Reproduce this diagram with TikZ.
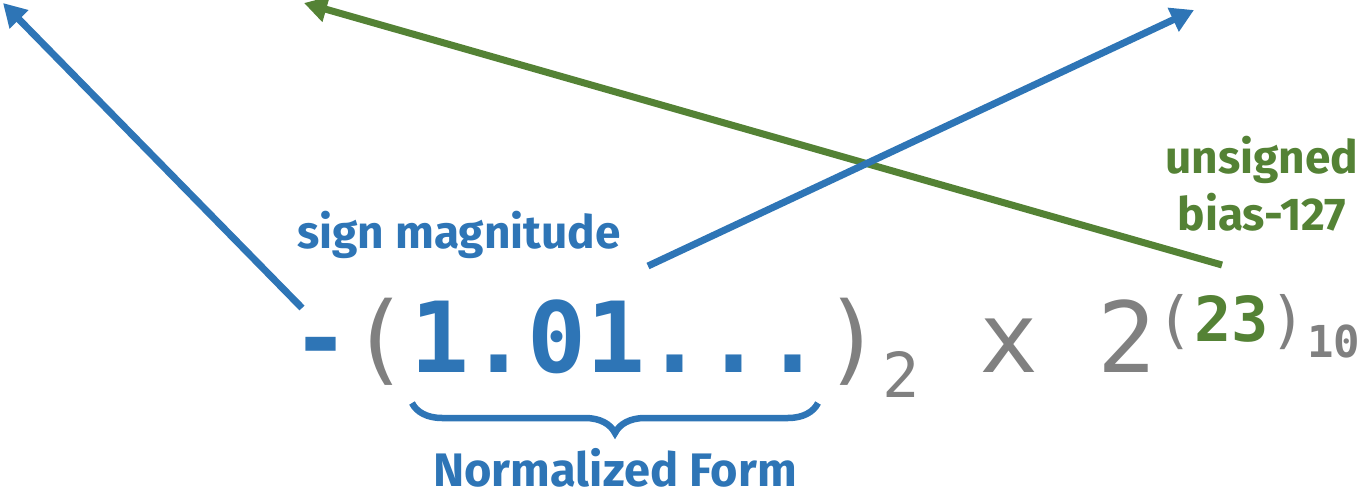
\documentclass[tikz,border=0pt]{standalone}
\usepackage{fontspec}
\setsansfont{Fira Sans}
\setmonofont{DejaVu Sans Mono}
\usetikzlibrary{arrows.meta,positioning,decorations.pathreplacing}
\definecolor{signblue}{RGB}{46,117,182}
\definecolor{expgreen}{RGB}{84,130,53}
\definecolor{numgray}{RGB}{128,128,128}

\begin{document}
\begin{tikzpicture}[x=1pt, y=-1pt,
    big/.style = {inner sep=0pt, anchor=base west, font=\fontsize{98}{98}\selectfont\ttfamily},
    mid/.style = {inner sep=0pt, font=\fontsize{62}{62}\selectfont\ttfamily},
    tiny/.style = {inner sep=0pt, font=\fontsize{44}{44}\selectfont\ttfamily\bfseries},
    tag/.style = {inner sep=0pt, align=center, font=\fontsize{46}{57}\selectfont\sffamily\bfseries},
    pointer/.style = {line width=7pt, -{Triangle[length=23pt,width=25pt]}}]
    \useasboundingbox (0,0) rectangle (1362,497);

    % the number
    \node[big, signblue, font=\fontsize{98}{98}\selectfont\ttfamily\bfseries] (sgn) at (291,372) {-};
    \node[big, numgray] (lpar) [base right=0pt of sgn] {(};
    \node[big, signblue, font=\fontsize{98}{98}\selectfont\ttfamily\bfseries] (mant) [base right=0pt of lpar] {1.01...};
    \node[big, numgray] (rpar) [base right=0pt of mant] {)};
    \node[mid, numgray] (radix) [base right=0pt of rpar, yshift=-25pt] {2};
    \node[big, numgray] (pow) at (979,372) {x 2};
    \node[mid, numgray] (elpar) [base right=0pt of pow, yshift=31pt] {(};
    \node[mid, expgreen, font=\fontsize{62}{62}\selectfont\ttfamily\bfseries] (expo) [base right=0pt of elpar] {23};
    \node[mid, numgray] (erpar) [base right=0pt of expo] {)};
    \node[tiny, numgray] (eradix) [base right=0pt of erpar, yshift=-16pt] {10};

    % labels
    \node[tag, signblue, anchor=base] (smag) at (459,248) {sign magnitude};
    \node[tag, expgreen, anchor=base] (ubias) at (1262,230) {unsigned\\bias-127};
    \node[tag, signblue, anchor=base, font=\fontsize{47}{57}\selectfont\sffamily\bfseries] (nform) at (615,486) {Normalized Form};

    \draw[signblue, line width=6.5pt, decorate, decoration={brace, mirror, amplitude=30pt}]
        (412,403) -- (818,403);

    % pointers
    \coordinate (signtail) at (302,308);
    \coordinate (signtip) at (3,3);
    \coordinate (exptail) at (1222,265);
    \coordinate (exptip) at (304,3);
    \coordinate (manttail) at (648,266);
    \coordinate (manttip) at (1194,10);

    \draw[pointer, expgreen] (exptail) -- (exptip);
    \draw[pointer, signblue] (signtail) -- (signtip);
    \draw[pointer, signblue] (manttail) -- (manttip);
\end{tikzpicture}
\end{document}
